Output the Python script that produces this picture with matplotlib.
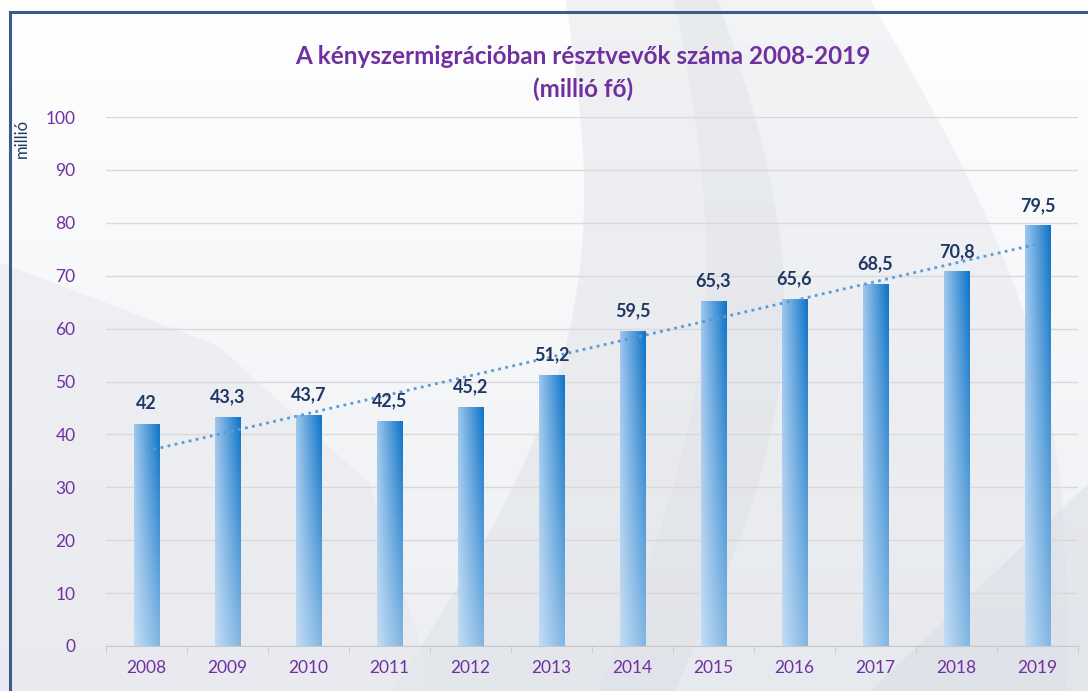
import matplotlib.pyplot as plt
import numpy as np
from matplotlib.patches import Rectangle, Polygon
from matplotlib.colors import LinearSegmentedColormap

years = ["2008", "2009", "2010", "2011", "2012", "2013",
         "2014", "2015", "2016", "2017", "2018", "2019"]
values = [42, 43.3, 43.7, 42.5, 45.2, 51.2, 59.5, 65.3, 65.6, 68.5, 70.8, 79.5]
labels = ["42", "43,3", "43,7", "42,5", "45,2", "51,2",
          "59,5", "65,3", "65,6", "68,5", "70,8", "79,5"]

PURPLE = "#7030a0"
DARKBLUE = "#1f3864"

plt.rcParams["font.family"] = ["Lato", "DejaVu Sans"]

fig = plt.figure(figsize=(10.88, 6.91), dpi=100)
fig.patch.set_facecolor("white")

# hatter: halvany szurke ivek
bg = fig.add_axes([0, 0, 1, 1], zorder=-5)
bg.set_xlim(0, 1)
bg.set_ylim(0, 1)
bg.axis("off")
grad = np.linspace(0, 1, 256)
bg.imshow(np.outer(grad, np.ones(2)), extent=[0, 1, 0, 1], aspect="auto",
          cmap=LinearSegmentedColormap.from_list("g", ["#eceef2", "#ffffff"]),
          origin="lower", zorder=0)


def band(x0_top, x0_bot, x1_top, x1_bot, bend, color, alpha):
    t = np.linspace(0, 1, 80)
    left = np.column_stack([x0_top + (x0_bot - x0_top) * t + bend * np.sin(np.pi * t), 1 - t])
    right = np.column_stack([x1_top + (x1_bot - x1_top) * t + bend * np.sin(np.pi * t), 1 - t])
    pts = np.vstack([left, right[::-1]])
    bg.add_patch(Polygon(pts, closed=True, facecolor=color, alpha=alpha, lw=0, zorder=1))


band(0.52, 0.36, 0.66, 0.62, 0.08, "#d5d9e0", 0.35)
band(0.62, 0.55, 0.80, 0.98, 0.06, "#dde0e6", 0.35)
bg.add_patch(Polygon([(0, 0.62), (0.2, 0.5), (0.34, 0.3), (0.4, 0), (0, 0)],
                     facecolor="#e6e8ed", alpha=0.5, lw=0, zorder=1))
bg.add_patch(Polygon([(0.8, 0), (1, 0.3), (1, 0)],
                     facecolor="#d9dde4", alpha=0.5, lw=0, zorder=1))
# keret
bg.add_patch(Rectangle((10 / 1088, -0.1), 1.2, 1 - 12 / 691 + 0.1,
                       fill=False, edgecolor="#3c5a8a", lw=2.2, zorder=3))

ax = fig.add_axes([106 / 1088, 45 / 691, 972 / 1088, 529 / 691])
ax.set_facecolor("none")
x = np.arange(len(years))
bars = ax.bar(x, values, width=0.32, color="none", edgecolor="none", zorder=3)

# szinatmenet az oszlopokon
h = np.linspace(0, 1, 64)
v = np.linspace(0, 1, 128)
H, V = np.meshgrid(h, v)
light = np.array([0.88, 0.93, 0.98])
dark = np.array([0.05, 0.45, 0.78])
mid = np.array([0.62, 0.78, 0.93])
for b in bars:
    hx = H[..., None]
    vy = V[..., None]
    top = mid * (1 - hx) + dark * hx
    img = light * (1 - vy) * 0.55 + top * (1 - 0.55 * (1 - vy))
    img = np.clip(img, 0, 1)
    bx = b.get_x()
    im = ax.imshow(img, extent=[bx, bx + b.get_width(), 0, b.get_height()],
                   origin="lower", aspect="auto", zorder=3)
    im.set_clip_path(b)

# trendvonal
coef = np.polyfit(x, values, 1)
ax.plot(x, np.polyval(coef, x), linestyle=(0, (1, 1.6)), color="#5b9bd5",
        lw=2, zorder=4)

for xi, val, lab in zip(x, values, labels):
    ax.text(xi, val + 2.2, lab, ha="center", va="bottom", fontsize=13,
            fontweight="bold", color=DARKBLUE, zorder=5)

ax.set_xlim(-0.5, len(years) - 0.5)
ax.set_ylim(0, 100)
ax.set_yticks(range(0, 101, 10))
ax.set_xticks(x)
ax.set_xticklabels(years)
ax.set_xticks(np.arange(-0.5, len(years), 1), minor=True)
ax.tick_params(axis="x", which="major", length=0, pad=10, labelsize=12.5,
               labelcolor=PURPLE)
ax.tick_params(axis="x", which="minor", length=5, color="#c8c8c8")
ax.tick_params(axis="y", length=0, pad=22, labelsize=12.5, labelcolor=PURPLE)
ax.grid(axis="y", color="#d9d9d9", lw=1, zorder=0)
ax.set_axisbelow(True)
for s in ["top", "right", "left"]:
    ax.spines[s].set_visible(False)
ax.spines["bottom"].set_color("#c8c8c8")

fig.text(22 / 1088, 1 - 138 / 691, "millió", rotation=90, ha="center",
         va="center", fontsize=12, color=DARKBLUE)
fig.text(0.536, 1 - 57 / 691, "A kényszermigrációban résztvevők száma 2008-2019",
         ha="center", va="center", fontsize=17.5, fontweight="bold", color=PURPLE)
fig.text(0.536, 1 - 89 / 691, "(millió fő)", ha="center", va="center",
         fontsize=17.5, fontweight="bold", color=PURPLE)

fig.savefig("out.png", dpi=100)
